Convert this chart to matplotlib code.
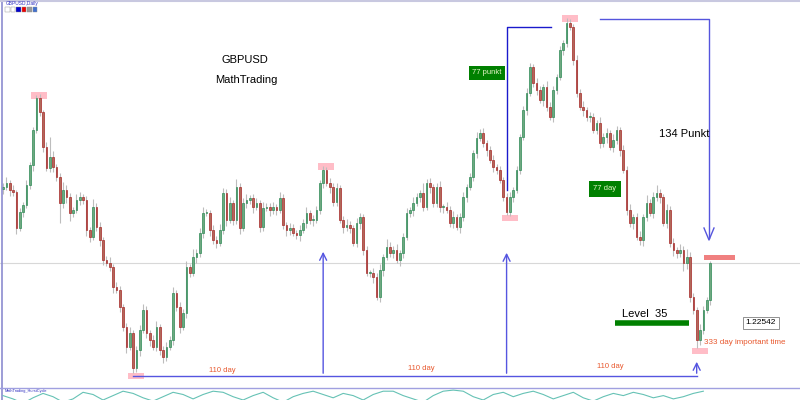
import matplotlib
matplotlib.use("Agg")
import matplotlib.pyplot as plt
from matplotlib.patches import Rectangle

plt.rcParams['font.family'] = ['Liberation Sans', 'DejaVu Sans']

symbol = "GBPUSD"
source = "MathTrading"
last_price = "1.22542"

# daily closes
first_open = 1.2388
closes = [
    1.2390, 1.2394, 1.2387, 1.2385, 1.2349, 1.2365, 1.2372, 1.2392, 1.2412, 1.2447,
    1.2479, 1.2465, 1.2430, 1.2409, 1.2420, 1.2410, 1.2400, 1.2374, 1.2387, 1.2380,
    1.2364, 1.2367, 1.2377, 1.2380, 1.2377, 1.2347, 1.2340, 1.2370, 1.2350, 1.2337,
    1.2317, 1.2314, 1.2310, 1.2290, 1.2287, 1.2270, 1.2250, 1.2230, 1.2244, 1.2209,
    1.2227, 1.2247, 1.2267, 1.2244, 1.2237, 1.2230, 1.2250, 1.2227, 1.2220, 1.2230,
    1.2237, 1.2284, 1.2270, 1.2250, 1.2264, 1.2310, 1.2304, 1.2320, 1.2324, 1.2344,
    1.2364, 1.2364, 1.2347, 1.2337, 1.2334, 1.2347, 1.2384, 1.2357, 1.2374, 1.2357,
    1.2390, 1.2349, 1.2374, 1.2377, 1.2379, 1.2370, 1.2374, 1.2350, 1.2369, 1.2370,
    1.2367, 1.2370, 1.2367, 1.2379, 1.2352, 1.2347, 1.2349, 1.2344, 1.2342, 1.2347,
    1.2354, 1.2364, 1.2357, 1.2357, 1.2367, 1.2394, 1.2407, 1.2394, 1.2390, 1.2375,
    1.2389, 1.2357, 1.2350, 1.2352, 1.2349, 1.2334, 1.2354, 1.2360, 1.2327, 1.2304,
    1.2304, 1.2300, 1.2280, 1.2307, 1.2320, 1.2330, 1.2324, 1.2327, 1.2317, 1.2324,
    1.2340, 1.2364, 1.2367, 1.2374, 1.2380, 1.2384, 1.2370, 1.2394, 1.2390, 1.2374,
    1.2390, 1.2370, 1.2370, 1.2367, 1.2354, 1.2360, 1.2350, 1.2360, 1.2380, 1.2390,
    1.2400, 1.2424, 1.2439, 1.2444, 1.2434, 1.2427, 1.2417, 1.2410, 1.2407, 1.2397,
    1.2380, 1.2365, 1.2380, 1.2387, 1.2407, 1.2440, 1.2467, 1.2484, 1.2510, 1.2494,
    1.2487, 1.2477, 1.2490, 1.2470, 1.2460, 1.2487, 1.2500, 1.2527, 1.2534, 1.2554,
    1.2550, 1.2517, 1.2484, 1.2470, 1.2467, 1.2460, 1.2460, 1.2447, 1.2454, 1.2434,
    1.2440, 1.2444, 1.2430, 1.2437, 1.2447, 1.2427, 1.2407, 1.2367, 1.2354, 1.2360,
    1.2340, 1.2337, 1.2360, 1.2374, 1.2364, 1.2380, 1.2384, 1.2380, 1.2354, 1.2367,
    1.2334, 1.2327, 1.2324, 1.2327, 1.2314, 1.2320, 1.2280, 1.2267, 1.2237, 1.2247,
    1.2267, 1.2277, 1.2314,
]
# wick lengths above / below the body, in pips
wick_up = [
    4, 6, 3, 5, 2, 4, 3, 5, 3, 3,
    3, 4, 2, 5, 20, 6, 3, 4, 8, 5,
    4, 3, 6, 5, 3, 4, 3, 8, 4, 5,
    3, 4, 6, 3, 5, 4, 3, 4, 6, 3,
    4, 5, 6, 4, 3, 5, 6, 3, 4, 5,
    4, 6, 3, 5, 4, 6, 3, 8, 4, 5,
    6, 4, 3, 5, 4, 6, 5, 4, 6, 3,
    8, 4, 5, 6, 3, 4, 5, 3, 6, 4,
    4, 5, 3, 6, 4, 3, 5, 4, 3, 5,
    4, 6, 3, 5, 4, 3, 4, 3, 5, 4,
    5, 3, 4, 6, 4, 3, 5, 4, 3, 4,
    3, 5, 4, 6, 3, 8, 5, 4, 6, 3,
    4, 5, 3, 6, 4, 3, 10, 4, 5, 3,
    4, 6, 3, 5, 4, 6, 3, 4, 5, 3,
    4, 3, 6, 4, 5, 3, 4, 5, 3, 4,
    3, 4, 5, 3, 4, 3, 4, 5, 4, 3,
    5, 4, 3, 6, 5, 4, 3, 4, 3, 5,
    4, 3, 5, 4, 6, 3, 5, 4, 3, 6,
    4, 5, 3, 6, 4, 3, 5, 4, 6, 3,
    4, 6, 3, 8, 4, 5, 8, 4, 3, 6,
    4, 5, 3, 6, 4, 8, 5, 4, 3, 6,
    4, 3, 2,
]
wick_dn = [
    5, 3, 6, 4, 6, 3, 5, 3, 4, 6,
    3, 4, 5, 3, 4, 5, 4, 20, 5, 6,
    8, 4, 3, 5, 4, 6, 5, 3, 4, 6,
    5, 3, 4, 6, 3, 5, 4, 6, 3, 5,
    4, 6, 3, 5, 6, 3, 4, 5, 6, 4,
    3, 5, 4, 6, 3, 5, 4, 3, 6, 4,
    5, 3, 6, 4, 5, 3, 4, 6, 3, 5,
    4, 6, 3, 5, 4, 6, 3, 5, 4, 3,
    6, 4, 5, 3, 4, 6, 5, 3, 4, 6,
    3, 5, 4, 6, 3, 4, 5, 3, 6, 4,
    4, 3, 6, 4, 5, 3, 4, 6, 5, 3,
    4, 6, 3, 5, 6, 3, 4, 5, 3, 6,
    5, 3, 4, 6, 3, 5, 4, 3, 6, 4,
    4, 5, 6, 3, 4, 5, 3, 6, 4, 5,
    3, 4, 5, 3, 4, 6, 3, 5, 4, 3,
    4, 3, 4, 5, 3, 4, 3, 5, 3, 4,
    5, 3, 6, 4, 3, 5, 4, 3, 5, 4,
    3, 5, 4, 3, 6, 4, 5, 3, 4, 5,
    4, 6, 3, 5, 4, 6, 3, 5, 4, 6,
    3, 5, 6, 4, 3, 5, 4, 6, 3, 5,
    4, 6, 5, 4, 8, 6, 5, 4, 8, 5,
    4, 3, 5,
]
swing_highs = [10, 96, 169]
swing_lows = [39, 151, 208]

# oscillator in the bottom window, one value per 3 bars
osc = [0.4, 0.1, -0.3, 0.2, 0.6, 0.3, -0.2, 0.1, 0.7, 0.5,
       0.0, 0.4, 0.8, 0.6, 0.2, -0.1, 0.3, 0.7, 0.5, 0.1,
       0.5, 0.8, 0.7, 0.3, 0.0, 0.4, 0.7, 0.2, -0.2, 0.3,
       0.6, 0.8, 0.5, 0.2, 0.6, 0.4, 0.0, 0.5, 0.8, 0.8,
       0.4, 0.1, -0.2, 0.4, 0.8, 0.9, 0.8, 0.3, 0.0, 0.5,
       0.7, 0.3, 0.6, 0.8, 0.5, 0.1, 0.4, 0.7, 0.2, -0.1,
       0.3, 0.6, 0.4, 0.7, 0.5, 0.2, 0.4, 0.1, 0.3, 0.6, 0.8]

pip = 0.0001
bull_fill, bull_edge = '#6fa880', '#2e8b57'
bear_fill, bear_edge = '#b06a5a', '#a82828'
wick = '#bdbdbd'

fig = plt.figure(figsize=(8, 4), dpi=100)
step = 3.335
x0 = 3
xlim = (-x0 / step, (800 - x0) / step)

ax = fig.add_axes([0, 0, 1, 1])
ax.set_xlim(*xlim)
ax.set_ylim(1.2177, 1.2577)
ax.axis('off')

ax.axhline(1.2314, color='#d8d8d8', lw=0.8, zorder=1)

highs = []
lows = []
for i, c in enumerate(closes):
    o = closes[i - 1] if i > 0 else first_open
    hi = max(o, c) + wick_up[i] * pip
    lo = min(o, c) - wick_dn[i] * pip
    highs.append(hi)
    lows.append(lo)
    ax.vlines(i, lo, hi, color=wick, lw=0.8, zorder=3)
    fc, ec = (bull_fill, bull_edge) if c >= o else (bear_fill, bear_edge)
    ax.add_patch(Rectangle((i - 0.25, min(o, c)), 0.5, max(abs(c - o), 0.5 * pip),
                           fc=fc, ec=ec, lw=0.5, zorder=4))

for i in swing_highs:
    ax.add_patch(Rectangle((i - 1.5, highs[i] - 4 * pip), 4.8, 7 * pip,
                           fc='#ffb6c1', ec='none', alpha=0.9, zorder=2))
for i in swing_lows:
    ax.add_patch(Rectangle((i - 1.5, lows[i] - 6 * pip), 4.8, 6 * pip,
                           fc='#ffb6c1', ec='none', alpha=0.9, zorder=2))

# 110 day cycle arrows
base = 1.2201
arrow_blue = '#5555e0'
ax.plot([swing_lows[0], swing_lows[2]], [base, base], color=arrow_blue, lw=1, zorder=5)
for i, tip in [(swing_highs[1], 1.2328), (swing_lows[1], 1.2327), (swing_lows[2], 1.2218)]:
    ax.annotate('', xy=(i, tip), xytext=(i, base),
                arrowprops=dict(arrowstyle='->,head_length=0.5,head_width=0.25',
                                color=arrow_blue, lw=1), zorder=5)

# annotation layer in pixel coordinates
ov = fig.add_axes([0, 0, 1, 1])
ov.set_xlim(0, 800)
ov.set_ylim(400, 0)
ov.axis('off')
ov.patch.set_alpha(0)

ov.plot([1.5, 1.5], [0, 400], color='#8c8cd0', lw=1.2)
ov.plot([0, 800], [1, 1], color='#c8c8e0', lw=1.5)
ov.plot([0, 800], [388, 388], color='#a0a0e0', lw=1)

ov.text(6, 3.5, "GBPUSD,Daily", fontsize=3.5, color='#3030c0', va='center')
for x, fc in [(5, 'white'), (10.5, 'white'), (16, '#0000cc'), (21.5, '#ee0000'),
              (27, '#999999'), (32.5, '#4070d0')]:
    ov.add_patch(Rectangle((x, 7), 4.5, 4.5, fc=fc, ec='#909090', lw=0.3))

ov.text(245, 60, symbol, fontsize=8, ha='center', va='center')
ov.text(246, 80, source, fontsize=8, ha='center', va='center')

# 77 punkt leg
ov.plot([507, 507, 551], [190, 27, 27], color='#1a1acc', lw=1)
ov.text(487, 73, "77 punkt", fontsize=5.5, color='#e6f5c8', ha='center', va='center',
        bbox=dict(boxstyle='square,pad=0.45', fc='#008000', ec='none'))

# 134 Punkt leg
ov.plot([600, 709, 709], [19, 19, 238], color='#5555dd', lw=1)
ov.plot([704, 709, 714], [228, 240, 228], color='#5555dd', lw=1)
ov.text(684, 134, "134 Punkt", fontsize=8, ha='center', va='center')

ov.text(605, 189, "77 day", fontsize=5.5, color='#e6f5c8', ha='center', va='center',
        bbox=dict(boxstyle='square,pad=0.55', fc='#008000', ec='none'))

ov.add_patch(Rectangle((704, 255), 31, 5, fc='#f08080', ec='none'))

ov.text(645, 314, "Level  35", fontsize=8, ha='center', va='center')
ov.plot([615, 689], [323, 323], color='#008000', lw=4, solid_capstyle='butt')

ov.text(761, 323, last_price, fontsize=6, ha='center', va='center',
        bbox=dict(boxstyle='square,pad=0.3', fc='white', ec='#808080', lw=0.6))
ov.text(704, 343, "333 day important time", fontsize=5.8, color='#e8582e', va='center')

for x, y in [(222, 371), (421, 368), (610, 367)]:
    ov.text(x, y, "110 day", fontsize=5.5, color='#e8582e', ha='center', va='center')

# bottom oscillator window
osc_ax = fig.add_axes([0, 0, 1, 11 / 400])
osc_ax.set_xlim(*xlim)
osc_ax.set_ylim(0, 1)
osc_ax.axis('off')
osc_ax.plot([k * 3 for k in range(len(osc))], osc, color='#66c2b5', lw=0.8)
ov.text(5, 391, "MathTrading_HurstCycle", fontsize=2.8, color='#3030c0', va='center')

fig.savefig("out.png", dpi=100)
